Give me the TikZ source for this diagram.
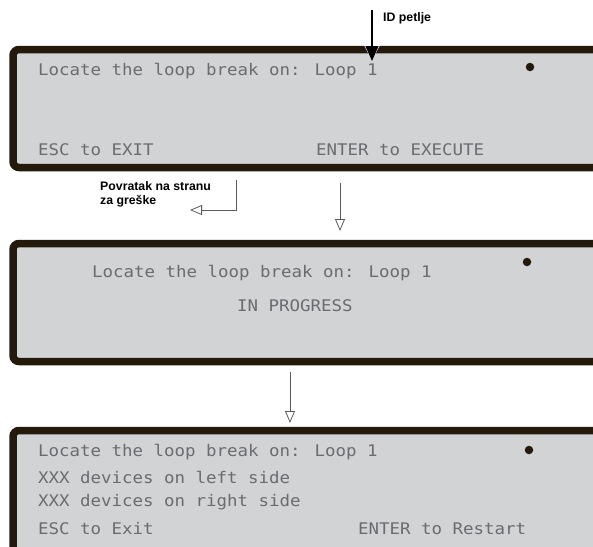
\documentclass[tikz,border=0pt]{standalone}
\usepackage{fontspec}
\usetikzlibrary{arrows.meta}
\newfontfamily\lcdfont[FakeStretch=1.09]{DejaVu Sans Mono}
\newfontfamily\labfont{Liberation Sans}
\definecolor{panelfill}{HTML}{D1D3D4}
\definecolor{paneledge}{HTML}{231A0C}
\definecolor{lcdtext}{HTML}{6B6B70}
\definecolor{arrowgray}{HTML}{5A5A5A}
\tikzset{
  panel/.style={draw=paneledge, fill=panelfill, line width=7.5pt, rounded corners=6pt},
  lcd/.style={anchor=base west, inner sep=0pt, text=lcdtext, font=\lcdfont\fontsize{16}{18}\selectfont},
  blob/.style={circle, fill=paneledge, inner sep=0pt, minimum size=8.5pt},
  lab/.style={anchor=base west, inner sep=0pt, align=left, font=\labfont\bfseries\fontsize{12.3}{14}\selectfont},
  flow/.style={draw=arrowgray, line width=0.8pt, -{Triangle[open, width=10pt, length=12pt, line width=0.8pt]}}
}
\begin{document}
\begin{tikzpicture}[x=1pt,y=-1pt]
\useasboundingbox (0,0) rectangle (593,546);
\clip (0,0) rectangle (593,546);
% panels
\draw[panel] (13,49.5) rectangle (620,167.5);
\draw[panel] (13,243.5) rectangle (620,361.5);
\draw[panel] (13,430.5) rectangle (620,560);
% panel 1 text
\node[lcd] (p1a) at (38,75.5) {Locate the loop break on: Loop 1};
\node[lcd] (p1b) at (38,155.5) {ESC to EXIT};
\node[lcd] (p1c) at (316,155.5) {ENTER to EXECUTE};
\node[blob] (b1) at (530,67) {};
% panel 2 text
\node[lcd] (p2a) at (92,277.5) {Locate the loop break on: Loop 1};
\node[lcd] (p2b) at (237,311.5) {IN PROGRESS};
\node[blob] (b2) at (527,262) {};
% panel 3 text
\node[lcd] (p3a) at (38,456.5) {Locate the loop break on: Loop 1};
\node[lcd] (p3b) at (38,483.5) {XXX devices on left side};
\node[lcd] (p3c) at (38,506.5) {XXX devices on right side};
\node[lcd] (p3d) at (38,534.5) {ESC to Exit};
\node[lcd] (p3e) at (358,534.5) {ENTER to Restart};
\node[blob] (b3) at (529,450) {};
% ID petlje arrow
\coordinate (ids) at (372,10);
\coordinate (idt) at (372,61);
\draw[white, line width=3.5pt, -{Triangle[width=16pt, length=17pt]}] (ids) -- (idt);
\draw[black, line width=1.6pt, -{Triangle[width=13pt, length=15pt]}] (ids) -- (idt);
\node[lab] (idl) at (383,21) {ID petlje};
% return arrow
\coordinate (r1) at (236,180);
\coordinate (r2) at (236,210);
\coordinate (r3) at (190,210);
\draw[flow] (r1) -- (r2) -- (r3);
\node[lab] (rl) at (100,204) {Povratak na stranu\\za greške};
% execute arrow
\coordinate (e1) at (340,183);
\coordinate (e2) at (340,231);
\draw[flow] (e1) -- (e2);
% progress arrow
\coordinate (g1) at (290,372);
\coordinate (g2) at (290,423);
\draw[flow] (g1) -- (g2);
\end{tikzpicture}
\end{document}
